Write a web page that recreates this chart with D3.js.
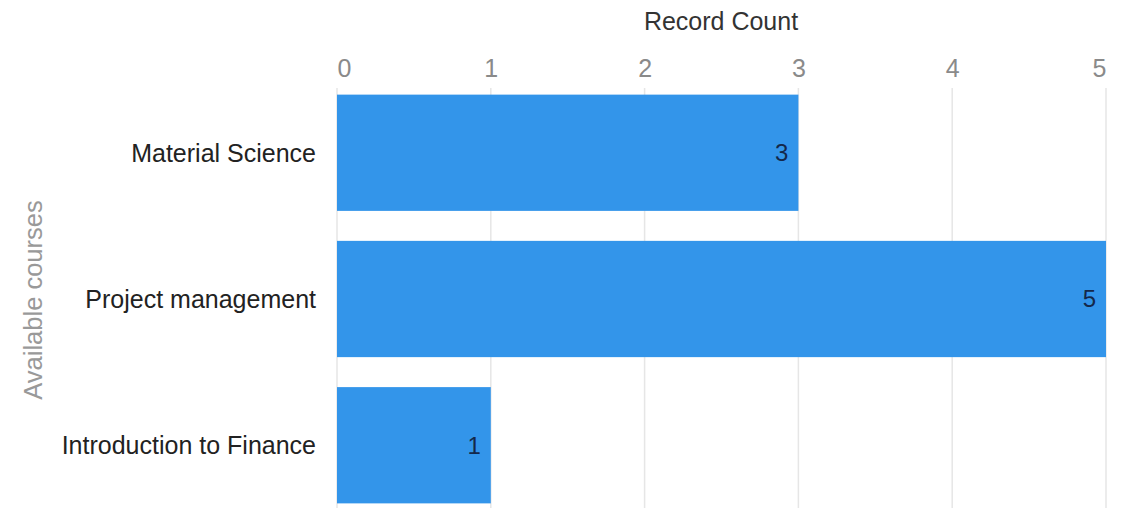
<!DOCTYPE html>
<html>
<head>
<meta charset="utf-8">
<script src="https://cdn.jsdelivr.net/npm/d3@7"></script>
<style>
  body { margin: 0; background: #fff; }
  text { font-family: "Liberation Sans", Arial, sans-serif; }
</style>
</head>
<body>
<div class="chart"></div>
<script>
var svgWidth = 1122;
var svgHeight = 508;

// data
var courses = ["Material Science", "Project management", "Introduction to Finance"];
var counts = [3, 5, 1];
var xTicks = [0, 1, 2, 3, 4, 5];

var data = courses.map((c, i) => ({course: c, count: counts[i]}));

var margin = {top: 80, right: 16, bottom: -10, left: 337};
var width = svgWidth - margin.left - margin.right;
var height = svgHeight - margin.top - margin.bottom;

var svg = d3.select(".chart")
  .append("svg")
  .attr("width", svgWidth)
  .attr("height", svgHeight);

var chartGroup = svg.append("g")
  .attr("transform", `translate(${margin.left}, ${margin.top})`);

// scales
let xScale = d3.scaleLinear()
  .domain([0, 5])
  .range([0, 769]);

let yScale = d3.scaleBand()
  .domain(courses)
  .range([0, height])
  .paddingInner(0.205)
  .paddingOuter(0.1);

// grid lines
chartGroup.append("g")
  .selectAll("line")
  .data(xTicks)
  .enter()
  .append("line")
  .attr("x1", d => xScale(d))
  .attr("x2", d => xScale(d))
  .attr("y1", 8)
  .attr("y2", height)
  .attr("stroke", "#e6e6e6")
  .attr("stroke-width", 1.5);

// top axis
let topAxis = d3.axisTop(xScale)
  .tickValues(xTicks)
  .tickFormat(d3.format("d"))
  .tickSize(0)
  .tickPadding(0);
let xAxis = chartGroup.append("g")
  .attr("transform", "translate(0, -3)")
  .call(topAxis);
xAxis.select(".domain").remove();
xAxis.selectAll("text")
  .attr("font-size", "25px")
  .attr("fill", "#8a8a8a")
  .attr("font-family", "\"Liberation Sans\", Arial, sans-serif")
  // edge labels sit inside the plot
  .attr("text-anchor", (d, i) => i === 0 ? "start" : (i === xTicks.length - 1 ? "end" : "middle"));

// bars
chartGroup.selectAll("rect")
  .data(data)
  .enter()
  .append("rect")
  .attr("x", xScale(0))
  .attr("y", d => yScale(d.course))
  .attr("width", d => xScale(d.count) - xScale(0))
  .attr("height", yScale.bandwidth())
  .attr("fill", "#3395ea");

// value labels
chartGroup.selectAll(".val")
  .data(data)
  .enter()
  .append("text")
  .attr("class", "val")
  .attr("x", d => xScale(d.count) - 10)
  .attr("y", d => yScale(d.course) + yScale.bandwidth() / 2)
  .attr("dy", "0.35em")
  .attr("text-anchor", "end")
  .attr("font-size", "24px")
  .attr("fill", "#14284a")
  .text(d => d.count);

// category labels
chartGroup.selectAll(".cat")
  .data(data)
  .enter()
  .append("text")
  .attr("class", "cat")
  .attr("x", -21)
  .attr("y", d => yScale(d.course) + yScale.bandwidth() / 2)
  .attr("dy", "0.35em")
  .attr("text-anchor", "end")
  .attr("font-size", "25px")
  .attr("fill", "#222")
  .text(d => d.course);

// x axis title
svg.append("text")
  .attr("x", 721)
  .attr("y", 30)
  .attr("text-anchor", "middle")
  .attr("font-size", "25px")
  .attr("fill", "#333")
  .text("Record Count");

// y axis title
svg.append("text")
  .attr("transform", "translate(42, 300) rotate(-90)")
  .attr("text-anchor", "middle")
  .attr("font-size", "25.5px")
  .attr("fill", "#999")
  .text("Available courses");
</script>
</body>
</html>
